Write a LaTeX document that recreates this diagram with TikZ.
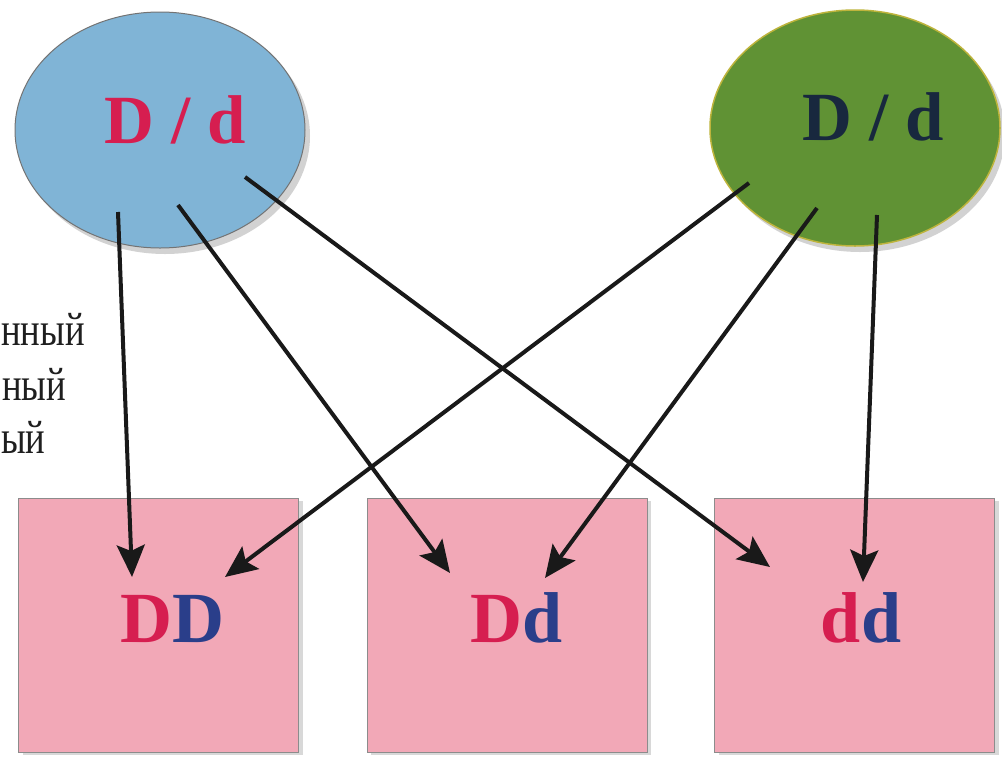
\documentclass[tikz,border=0pt]{standalone}
\usepackage{fontspec}
\setmainfont{Liberation Serif}
\usetikzlibrary{arrows.meta,shadows,shapes.geometric}
\definecolor{ellblue}{RGB}{128,180,214}
\definecolor{ellgreen}{RGB}{96,146,52}
\definecolor{boxpink}{RGB}{242,168,183}
\definecolor{lred}{RGB}{214,30,80}
\definecolor{lblue}{RGB}{42,62,138}
\definecolor{lnavy}{RGB}{24,40,62}
\begin{document}
\begin{tikzpicture}[x=1pt,y=-1pt,
  parent/.style={ellipse, minimum width=290pt, minimum height=236pt, inner sep=0pt,
    drop shadow={shadow xshift=5pt, shadow yshift=-6pt, opacity=0.35}},
  childbox/.style={rectangle, minimum width=280pt, minimum height=254pt, inner sep=0pt,
    fill=boxpink, draw=black!45, line width=1pt,
    drop shadow={shadow xshift=4pt, shadow yshift=-3pt, opacity=0.3}},
  big/.style={inner sep=0pt, font=\fontsize{72}{72}\selectfont\bfseries},
  side/.style={inner sep=0pt, anchor=base west, xscale=0.78, transform shape,
    font=\fontsize{47}{47}\selectfont, text=black!88},
  arr/.style={line width=4pt, draw=black!90, -{Stealth[length=32pt,width=28pt,inset=6pt]}}
]
\useasboundingbox[fill=white] (0,0) rectangle (1002,761);

% parent ellipses
\node[parent, fill=ellblue, draw=black!55, line width=1pt] (pa) at (160,130) {};
\node[parent, fill=ellgreen, draw={rgb,255:red,190;green,180;blue,60}, line width=1.5pt] (pb) at (855,128) {};
\node[big, anchor=base, font=\fontsize{69}{69}\selectfont\bfseries] (la) at (175,143) {\color{lred}D / d};
\node[big, anchor=base, text=lnavy, font=\fontsize{69}{69}\selectfont\bfseries] (lb) at (873,140) {D / d};

% side text
\node[side] (w1) at (1,345) {нный};
\node[side] (w2) at (2,400) {ный};
\node[side] (w3) at (1,453) {ый};

% offspring boxes
\node[childbox] (b1) at (158.5,625) {};
\node[childbox] (b2) at (507,625) {};
\node[childbox] (b3) at (854.5,625) {};
\node[big, anchor=base] (g1) at (172,642) {\textcolor{lred}{D}\textcolor{lblue}{D}};
\node[big, anchor=base] (g2) at (517,642) {\textcolor{lred}{D}\textcolor{lblue}{d}};
\node[big, anchor=base] (g3) at (861,642) {\textcolor{lred}{d}\textcolor{lblue}{d}};

% arrow ends
\coordinate (s1) at (118,212);
\coordinate (s2) at (178,205);
\coordinate (s3) at (245,177);
\coordinate (s4) at (749,183);
\coordinate (s5) at (817,208);
\coordinate (s6) at (877,215);
\coordinate (t1) at (132,577);
\coordinate (t2) at (450,573);
\coordinate (t3) at (770,567);
\coordinate (t4) at (225,577);
\coordinate (t5) at (545,578);
\coordinate (t6) at (863,582);

\draw[arr] (s1) -- (t1);
\draw[arr] (s2) -- (t2);
\draw[arr] (s3) -- (t3);
\draw[arr] (s4) -- (t4);
\draw[arr] (s5) -- (t5);
\draw[arr] (s6) -- (t6);
\end{tikzpicture}
\end{document}
